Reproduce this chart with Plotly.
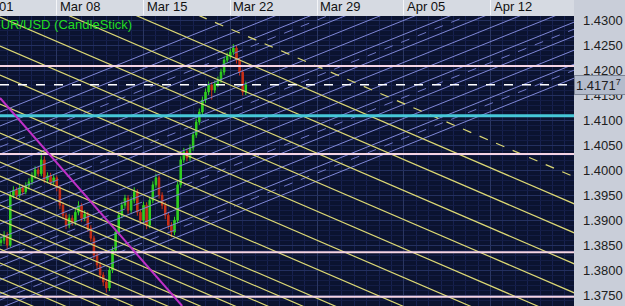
import numpy as np
import plotly.graph_objects as go

# ---------------- data ----------------
tick_days = [7, 14, 21, 28, 35, 42]
tick_text = ["Mar 08", "Mar 15", "Mar 22", "Mar 29", "Apr 05", "Apr 12"]
first_tick_text = "Mar 01"
first_tick_day = 0
price_ticks = [1.3750, 1.3800, 1.3850, 1.3900, 1.3950, 1.4000, 1.4050,
               1.4100, 1.4150, 1.4200, 1.4250, 1.4300]

bar_start_day = 2.5
bar_step_day = 0.25

opens = [1.3855, 1.3860, 1.3870, 1.3850, 1.3950, 1.3960, 1.3950, 1.3965, 1.3957, 1.3969,
         1.3977, 1.3989, 1.4001, 1.3993, 1.4021, 1.3981, 1.3989, 1.3977, 1.3985, 1.3965,
         1.3930, 1.3910, 1.3890, 1.3904, 1.3896, 1.3916, 1.3929, 1.3904, 1.3912, 1.3884,
         1.3864, 1.3830, 1.3810, 1.3790, 1.3776, 1.3764, 1.3800, 1.3840, 1.3876, 1.3910,
         1.3930, 1.3944, 1.3920, 1.3940, 1.3957, 1.3916, 1.3900, 1.3930, 1.3890, 1.3940,
         1.3971, 1.3985, 1.3950, 1.3930, 1.3910, 1.3890, 1.3876, 1.3900, 1.3971, 1.4021,
         1.4037, 1.4025, 1.4045, 1.4071, 1.4097, 1.4117, 1.4141, 1.4157, 1.4171, 1.4161,
         1.4173, 1.4181, 1.4197, 1.4221, 1.4229, 1.4237, 1.4245, 1.4221, 1.4197, 1.4157]
closes = [1.3860, 1.3870, 1.3850, 1.3950, 1.3960, 1.3950, 1.3965, 1.3957, 1.3969, 1.3977,
          1.3989, 1.4001, 1.3993, 1.4021, 1.3981, 1.3989, 1.3977, 1.3985, 1.3965, 1.3930,
          1.3910, 1.3890, 1.3904, 1.3896, 1.3916, 1.3929, 1.3904, 1.3912, 1.3884, 1.3864,
          1.3830, 1.3810, 1.3790, 1.3776, 1.3764, 1.3800, 1.3840, 1.3876, 1.3910, 1.3930,
          1.3944, 1.3920, 1.3940, 1.3957, 1.3916, 1.3900, 1.3930, 1.3890, 1.3940, 1.3971,
          1.3985, 1.3950, 1.3930, 1.3910, 1.3890, 1.3876, 1.3900, 1.3971, 1.4021, 1.4037,
          1.4025, 1.4045, 1.4071, 1.4097, 1.4117, 1.4141, 1.4157, 1.4171, 1.4161, 1.4173,
          1.4181, 1.4197, 1.4221, 1.4229, 1.4237, 1.4245, 1.4221, 1.4197, 1.4157, 1.41717]
highs = [1.3868, 1.3878, 1.3876, 1.3958, 1.3968, 1.3966, 1.3972, 1.3971, 1.3976, 1.3984,
         1.3996, 1.4008, 1.4007, 1.4037, 1.4028, 1.3996, 1.3995, 1.3992, 1.3990, 1.3970,
         1.3936, 1.3915, 1.3912, 1.3910, 1.3924, 1.3938, 1.3934, 1.3920, 1.3917, 1.3890,
         1.3869, 1.3836, 1.3816, 1.3796, 1.3782, 1.3806, 1.3847, 1.3883, 1.3917, 1.3937,
         1.3951, 1.3950, 1.3947, 1.3966, 1.3962, 1.3922, 1.3937, 1.3936, 1.3947, 1.3978,
         1.3993, 1.3990, 1.3956, 1.3936, 1.3916, 1.3896, 1.3907, 1.3978, 1.4028, 1.4045,
         1.4043, 1.4052, 1.4078, 1.4104, 1.4124, 1.4148, 1.4164, 1.4178, 1.4177, 1.4180,
         1.4188, 1.4204, 1.4228, 1.4236, 1.4244, 1.4253, 1.4251, 1.4226, 1.4202, 1.4178]
lows = [1.3848, 1.3852, 1.3842, 1.3846, 1.3944, 1.3942, 1.3945, 1.3950, 1.3952, 1.3962,
        1.3971, 1.3983, 1.3987, 1.3988, 1.3975, 1.3974, 1.3970, 1.3971, 1.3958, 1.3922,
        1.3902, 1.3882, 1.3884, 1.3889, 1.3890, 1.3910, 1.3897, 1.3898, 1.3877, 1.3857,
        1.3822, 1.3802, 1.3782, 1.3768, 1.3755, 1.3758, 1.3794, 1.3834, 1.3870, 1.3904,
        1.3924, 1.3913, 1.3914, 1.3934, 1.3909, 1.3892, 1.3894, 1.3882, 1.3884, 1.3934,
        1.3965, 1.3943, 1.3922, 1.3902, 1.3882, 1.3866, 1.3870, 1.3894, 1.3965, 1.4015,
        1.4018, 1.4019, 1.4039, 1.4065, 1.4091, 1.4111, 1.4135, 1.4151, 1.4142, 1.4155,
        1.4167, 1.4175, 1.4191, 1.4215, 1.4223, 1.4231, 1.4214, 1.4190, 1.4150, 1.4151]

last_price = 1.41717

# trend lines: price at left day / right day
line_left_day = 2.42
line_right_day = 48.78

yellow_left = [1.43074, 1.42493, 1.43696, 1.44277, 1.41911, 1.41330, 1.40748,
               1.40167, 1.39585, 1.39004, 1.38423, 1.37841,
               1.39886, 1.39305, 1.38723, 1.38142, 1.37560]
yellow_right = [1.38122, 1.37540, 1.38743, 1.39325, 1.36959, 1.36377, 1.35796,
                1.35215, 1.34633, 1.34052, 1.33470, 1.32889,
                1.34934, 1.34353, 1.33771, 1.33190, 1.32608]
yellow_dash_left = [1.44819]
yellow_dash_right = [1.39866]

blue_left = [1.41169, 1.40889, 1.40608, 1.40327, 1.40047,
             1.39766, 1.39485, 1.39205, 1.38924, 1.38643, 1.38363, 1.38082, 1.37801,
             1.37520, 1.37240]
blue_right = [1.45781, 1.45501, 1.45220, 1.44939, 1.44659,
              1.44378, 1.44097, 1.43817, 1.43536, 1.43255, 1.42975, 1.42694, 1.42413,
              1.42132, 1.41852]
blue_dash_left = [1.40468, 1.39345, 1.38222, 1.37400]
blue_dash_right = [1.45080, 1.43957, 1.42834, 1.42012]

magenta_days = [2.42, 17.12]
magenta_prices = [1.4145, 1.3728]

pink_levels = [1.42092, 1.40327, 1.38356, 1.37466]
cyan_level = 1.41095

x_range = [2.42, 48.73]
y_range = [1.3728, 1.43094]

# ---------------- figure ----------------
fig = go.Figure()


def seg_trace(lefts, rights, color, width, dash="solid"):
    xs, ys = [], []
    for a, b in zip(lefts, rights):
        xs += [line_left_day, line_right_day, None]
        ys += [a, b, None]
    return go.Scatter(x=xs, y=ys, mode="lines", hoverinfo="skip",
                      line=dict(color=color, width=width, dash=dash))


fig.add_trace(seg_trace(blue_left, blue_right, "#8088d8", 1))
fig.add_trace(seg_trace(blue_dash_left, blue_dash_right, "#7078c8", 1, "dash"))
fig.add_trace(seg_trace(yellow_left, yellow_right, "#dcd874", 1.2))
fig.add_trace(seg_trace(yellow_dash_left, yellow_dash_right, "#dcd874", 1.2, "dash"))

for lv in pink_levels:
    fig.add_trace(go.Scatter(x=[line_left_day, line_right_day], y=[lv, lv], mode="lines",
                             hoverinfo="skip", line=dict(color="#f6d4e4", width=2)))
fig.add_trace(go.Scatter(x=[line_left_day, line_right_day], y=[cyan_level, cyan_level],
                         mode="lines", hoverinfo="skip", line=dict(color="#46c8d8", width=3)))
fig.add_trace(go.Scatter(x=[line_left_day, line_right_day], y=[last_price, last_price],
                         mode="lines", hoverinfo="skip",
                         line=dict(color="#ffffff", width=1.5, dash="dash")))
fig.add_trace(go.Scatter(x=magenta_days, y=magenta_prices, mode="lines", hoverinfo="skip",
                         line=dict(color="#c030c8", width=2)))

bar_days = bar_start_day + bar_step_day * np.arange(len(closes))
fig.add_trace(go.Candlestick(
    x=bar_days, open=opens, high=highs, low=lows, close=closes,
    increasing=dict(line=dict(color="#30d020", width=1), fillcolor="#30d020"),
    decreasing=dict(line=dict(color="#c83018", width=1), fillcolor="#c83018"),
    whiskerwidth=0, hoverinfo="skip"))

annotations = []
for d, t in zip(tick_days, tick_text):
    annotations.append(dict(text=t, x=d, xref="x", y=1, yref="paper", yanchor="bottom",
                            xanchor="left", xshift=1, yshift=0, showarrow=False,
                            font=dict(family="Arial", size=13, color="#101010")))
# first week label sits left of the visible range: place it in paper units
annotations.append(dict(text=first_tick_text,
                        x=(first_tick_day - x_range[0]) / (x_range[1] - x_range[0]),
                        xref="paper", y=1, yref="paper", yanchor="bottom",
                        xanchor="left", xshift=1, showarrow=False,
                        font=dict(family="Arial", size=13, color="#101010")))
annotations += [
    dict(text="EUR/USD (CandleStick)", x=-10 / 574, xref="paper", xanchor="left",
         y=1 - 8 / 290, yref="paper", yanchor="middle", showarrow=False,
         font=dict(family="Arial", size=13, color="#22dd22")),
    dict(text="1.4171<sup>7</sup>", x=1, xref="paper", xanchor="left", y=last_price,
         yref="y", yanchor="middle", showarrow=False,
         bgcolor="#b4bccc", bordercolor="#7c8494", borderwidth=1, borderpad=1,
         width=49, align="left",
         font=dict(family="Arial", size=13, color="#202020")),
]

fig.update_layout(
    width=625, height=306,
    margin=dict(l=0, r=51, t=16, b=0),
    paper_bgcolor="#c9ced9", plot_bgcolor="#0b1330",
    showlegend=False,
    shapes=[dict(type="rect", xref="paper", yref="paper", x0=0, x1=1, y0=1,
                 y1=1 + 16 / 290, fillcolor="#d6dae2", line=dict(width=0), layer="below")],
    xaxis=dict(range=x_range, side="top", tickvals=[first_tick_day] + tick_days,
               ticks="outside", ticklen=16, tickcolor="#f4f5f8", tickwidth=1,
               showticklabels=False,
               showgrid=True, gridcolor="#2a3662", gridwidth=1,
               minor=dict(dtick=1, tick0=0, showgrid=True, gridcolor="#172150"),
               zeroline=False, showline=False, rangeslider=dict(visible=False)),
    yaxis=dict(range=y_range, side="right", tickvals=price_ticks,
               tickformat=".4f", ticks="", ticklabelstandoff=8,
               tickfont=dict(family="Arial", size=13, color="#202020"),
               showgrid=True, gridcolor="#243060",
               minor=dict(dtick=0.001, tick0=1.37, showgrid=True, gridcolor="#141d46"),
               zeroline=False, showline=False),
    annotations=annotations,
)

fig.write_html("out.html")
